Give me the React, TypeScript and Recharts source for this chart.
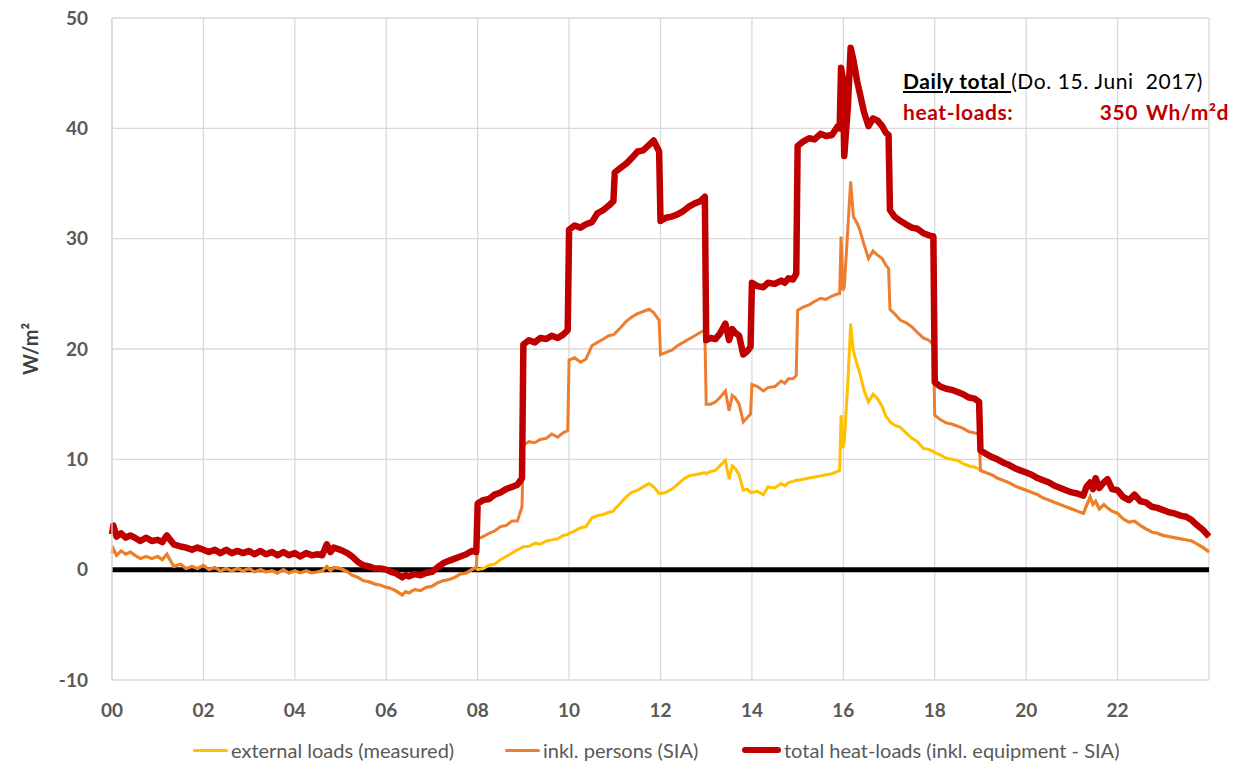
import React from 'react';
import {
  LineChart,
  Line,
  XAxis,
  YAxis,
  CartesianGrid,
  ReferenceLine,
} from 'recharts';

// time of day in hours (denser around the step changes)
const hours = [
  0, 0.03, 0.1, 0.2, 0.3, 0.4, 0.5, 0.62, 0.75, 0.87,
  1.0, 1.1, 1.2, 1.35, 1.5, 1.62, 1.75, 1.87, 2.0, 2.12,
  2.25, 2.37, 2.5, 2.62, 2.75, 2.87, 3.0, 3.12, 3.25, 3.37,
  3.5, 3.62, 3.75, 3.87, 4.0, 4.12, 4.25, 4.37, 4.5, 4.6,
  4.7, 4.78, 4.85, 5.0, 5.15, 5.25, 5.38, 5.5, 5.62, 5.75,
  5.87, 6.0, 6.1, 6.2, 6.35, 6.42, 6.5, 6.62, 6.75, 6.87,
  7.0, 7.12, 7.25, 7.37, 7.5, 7.62, 7.75, 7.87, 7.97, 8.0,
  8.12, 8.25, 8.37, 8.5, 8.62, 8.75, 8.87, 8.97, 9.0, 9.12,
  9.25, 9.37, 9.5, 9.62, 9.75, 9.87, 9.97, 10.0, 10.12, 10.25,
  10.37, 10.5, 10.62, 10.75, 10.87, 10.97, 11.0, 11.12, 11.25, 11.37,
  11.5, 11.62, 11.75, 11.85, 11.97, 12.0, 12.12, 12.25, 12.37, 12.5,
  12.62, 12.75, 12.87, 12.97, 13.0, 13.1, 13.2, 13.3, 13.42, 13.5,
  13.57, 13.63, 13.72, 13.81, 13.9, 13.97, 14.0, 14.12, 14.25, 14.35,
  14.5, 14.64, 14.72, 14.8, 14.9, 14.97, 15.0, 15.12, 15.25, 15.37,
  15.5, 15.62, 15.75, 15.88, 15.92, 15.95, 15.99, 16.02, 16.1, 16.16,
  16.22, 16.3, 16.36, 16.45, 16.55, 16.65, 16.75, 16.85, 16.93, 16.99,
  17.02, 17.12, 17.25, 17.37, 17.5, 17.62, 17.75, 17.87, 17.97, 18.0,
  18.12, 18.25, 18.37, 18.5, 18.62, 18.75, 18.87, 18.97, 19.0, 19.12,
  19.25, 19.37, 19.5, 19.62, 19.75, 19.87, 20.0, 20.12, 20.25, 20.37,
  20.5, 20.62, 20.75, 20.87, 21.0, 21.12, 21.25, 21.32, 21.4, 21.46,
  21.52, 21.6, 21.7, 21.78, 21.88, 22.0, 22.12, 22.25, 22.37, 22.5,
  22.62, 22.75, 22.87, 23.0, 23.12, 23.25, 23.37, 23.5, 23.62, 23.75,
  23.87, 24.0,
];

// W/m2
const externalLoads = [
  1.5, 1.9, 1.3, 1.7, 1.4, 1.6, 1.3, 1.0, 1.2, 1.0,
  1.2, 0.9, 1.4, 0.3, 0.5, 0.1, 0.3, 0.1, 0.4, 0.0,
  0.2, -0.1, 0.1, -0.1, 0.1, -0.1, 0.1, -0.2, 0.0, -0.2,
  -0.1, -0.3, 0.0, -0.3, -0.1, -0.3, -0.1, -0.3, -0.2, -0.1,
  0.3, -0.1, 0.2, 0.1, -0.2, -0.5, -0.7, -1.0, -1.1, -1.3,
  -1.4, -1.6, -1.7, -1.9, -2.3, -2.0, -2.1, -1.8, -1.9, -1.6,
  -1.5, -1.2, -1.0, -0.9, -0.7, -0.4, -0.3, 0.0, 0.2, 0.0,
  0.1, 0.4, 0.5, 0.9, 1.2, 1.5, 1.8, 2.0, 2.1, 2.1,
  2.4, 2.3, 2.6, 2.7, 2.8, 3.1, 3.2, 3.3, 3.5, 3.8,
  3.9, 4.7, 4.9, 5.0, 5.2, 5.3, 5.5, 6.0, 6.6, 7.0,
  7.2, 7.5, 7.8, 7.5, 6.9, 6.9, 7.0, 7.3, 7.7, 8.2,
  8.5, 8.6, 8.7, 8.8, 8.7, 8.9, 9.0, 9.4, 9.9, 8.2,
  9.4, 9.2, 8.6, 7.2, 7.3, 7.0, 7.0, 7.1, 6.8, 7.5,
  7.4, 7.8, 7.6, 7.9, 8.0, 8.1, 8.1, 8.2, 8.3, 8.4,
  8.5, 8.6, 8.7, 8.9, 9.0, 14.0, 11.0, 11.6, 17.0, 22.3,
  19.8, 18.6, 17.8, 16.3, 15.2, 15.9, 15.5, 14.8, 13.9, 13.6,
  13.4, 13.1, 12.9, 12.4, 11.9, 11.6, 11.0, 10.9, 10.7, 10.6,
  10.4, 10.1, 10.0, 9.9, 9.6, 9.4, 9.3, 9.1, 9.0, 8.8,
  8.6, 8.3, 8.1, 7.9, 7.6, 7.4, 7.2, 7.0, 6.8, 6.5,
  6.3, 6.1, 5.9, 5.7, 5.5, 5.3, 5.1, 5.8, 6.6, 5.9,
  6.2, 5.5, 5.9, 5.6, 5.3, 5.1, 4.6, 4.3, 4.4, 4.0,
  3.7, 3.4, 3.3, 3.1, 3.0, 2.9, 2.8, 2.7, 2.6, 2.3,
  2.0, 1.6,
];

const inklPersons = [
  1.5, 1.9, 1.3, 1.7, 1.4, 1.6, 1.3, 1.0, 1.2, 1.0,
  1.2, 0.9, 1.4, 0.3, 0.5, 0.1, 0.3, 0.1, 0.4, 0.0,
  0.2, -0.1, 0.1, -0.1, 0.1, -0.1, 0.1, -0.2, 0.0, -0.2,
  -0.1, -0.3, 0.0, -0.3, -0.1, -0.3, -0.1, -0.3, -0.2, -0.1,
  0.3, -0.1, 0.2, 0.1, -0.2, -0.5, -0.7, -1.0, -1.1, -1.3,
  -1.4, -1.6, -1.7, -1.9, -2.3, -2.0, -2.1, -1.8, -1.9, -1.6,
  -1.5, -1.2, -1.0, -0.9, -0.7, -0.4, -0.3, 0.0, 0.2, 2.8,
  3.0, 3.3, 3.5, 3.9, 4.0, 4.4, 4.4, 5.7, 11.3, 11.6,
  11.5, 11.8, 11.9, 12.3, 12.0, 12.4, 12.6, 19.0, 19.2, 18.8,
  19.1, 20.3, 20.6, 20.9, 21.2, 21.3, 21.4, 21.9, 22.5, 22.9,
  23.2, 23.4, 23.6, 23.3, 22.6, 19.5, 19.7, 19.9, 20.3, 20.6,
  20.9, 21.2, 21.5, 21.7, 15.0, 15.0, 15.2, 15.6, 16.2, 14.4,
  15.8, 15.6, 15.0, 13.4, 13.8, 14.1, 16.8, 16.6, 16.2, 16.5,
  16.6, 17.1, 16.9, 17.3, 17.3, 17.6, 23.5, 23.8, 24.0, 24.3,
  24.6, 24.5, 24.8, 25.0, 25.0, 30.2, 25.3, 25.6, 31.0, 35.2,
  32.0, 31.4, 30.8, 29.5, 28.2, 28.9, 28.5, 28.2, 27.6, 27.3,
  23.6, 23.2, 22.6, 22.4, 22.0, 21.5, 21.0, 20.8, 20.4, 14.0,
  13.6, 13.3, 13.2, 13.0, 12.8, 12.5, 12.4, 12.3, 9.0, 8.8,
  8.6, 8.3, 8.1, 7.9, 7.6, 7.4, 7.2, 7.0, 6.8, 6.5,
  6.3, 6.1, 5.9, 5.7, 5.5, 5.3, 5.1, 5.8, 6.6, 5.9,
  6.2, 5.5, 5.9, 5.6, 5.3, 5.1, 4.6, 4.3, 4.4, 4.0,
  3.7, 3.4, 3.3, 3.1, 3.0, 2.9, 2.8, 2.7, 2.6, 2.3,
  2.0, 1.6,
];

const totalHeatLoads = [
  3.2, 4.0, 3.0, 3.3, 2.9, 3.1, 2.9, 2.6, 2.9, 2.6,
  2.7, 2.5, 3.1, 2.3, 2.1, 2.0, 1.8, 2.0, 1.8, 1.6,
  1.8, 1.5, 1.8, 1.5, 1.7, 1.5, 1.7, 1.4, 1.7, 1.4,
  1.6, 1.3, 1.6, 1.3, 1.5, 1.2, 1.5, 1.3, 1.4, 1.3,
  2.3, 1.6, 2.0, 1.8, 1.5, 1.2, 0.7, 0.4, 0.3, 0.1,
  0.1, 0.0, -0.2, -0.3, -0.7, -0.5, -0.6, -0.4, -0.5, -0.3,
  -0.2, 0.2, 0.6, 0.8, 1.0, 1.2, 1.4, 1.7, 1.6, 6.0,
  6.3, 6.4, 6.8, 7.0, 7.3, 7.5, 7.7, 8.3, 20.4, 20.8,
  20.6, 21.0, 20.9, 21.2, 21.0, 21.3, 21.7, 30.8, 31.2, 31.0,
  31.3, 31.5, 32.3, 32.6, 33.0, 33.4, 36.0, 36.4, 36.8, 37.3,
  37.9, 38.0, 38.5, 38.9, 37.9, 31.6, 31.9, 32.0, 32.2, 32.5,
  32.9, 33.2, 33.4, 33.8, 20.8, 21.0, 20.9, 21.4, 22.3, 20.8,
  21.8, 21.5, 21.2, 19.5, 19.8, 20.2, 26.0, 25.7, 25.6, 26.0,
  25.9, 26.2, 26.0, 26.4, 26.3, 26.8, 38.4, 38.8, 39.1, 39.0,
  39.5, 39.3, 39.4, 40.2, 40.0, 45.5, 44.5, 37.5, 42.0, 47.3,
  46.2, 44.3, 43.2, 41.5, 40.2, 40.9, 40.7, 40.2, 39.6, 39.4,
  32.6, 32.0, 31.6, 31.3, 31.0, 30.9, 30.5, 30.3, 30.2, 17.0,
  16.6, 16.4, 16.3, 16.1, 15.9, 15.6, 15.5, 15.2, 10.8, 10.5,
  10.2, 10.0, 9.7, 9.5, 9.2, 9.0, 8.8, 8.6, 8.3, 8.1,
  7.9, 7.6, 7.4, 7.2, 7.0, 6.9, 6.7, 7.5, 7.9, 7.3,
  8.3, 7.4, 7.9, 8.2, 7.3, 7.2, 6.6, 6.3, 6.8, 6.2,
  6.1, 5.7, 5.6, 5.4, 5.2, 5.1, 4.9, 4.8, 4.5, 4.0,
  3.6, 3.0,
];

const xTicks = [0, 2, 4, 6, 8, 10, 12, 14, 16, 18, 20, 22];
const yTicks = [-10, 0, 10, 20, 30, 40, 50];

const seriesNames = [
  'external loads (measured)',
  'inkl. persons (SIA)',
  'total heat-loads (inkl. equipment - SIA)',
];

const COLORS = { ext: '#FFC000', pers: '#ED7D31', total: '#C00000' };
const FONT = "Lato, 'Open Sans', sans-serif";

const data = hours.map((h, i) => ({
  h,
  ext: externalLoads[i],
  pers: inklPersons[i],
  total: totalHeatLoads[i],
}));

const legendItems = [
  { name: seriesNames[0], color: COLORS.ext, width: 3, len: 35, left: 193 },
  { name: seriesNames[1], color: COLORS.pers, width: 3, len: 35, left: 505 },
  { name: seriesNames[2], color: COLORS.total, width: 6, len: 39, left: 742 },
];

export default function App() {
  return (
    // shifted up/left by the body margin so the chart starts at the window corner
    <div style={{ position: 'relative', top: -8, left: -8, width: 1241, height: 754, fontFamily: FONT }}>
      <LineChart
        width={1241}
        height={754}
        data={data}
        margin={{ top: 18, right: 32, left: 8, bottom: 34 }}
      >
        <CartesianGrid stroke="#D9D9D9" strokeWidth={1.3} />
        <XAxis
          dataKey="h"
          type="number"
          domain={[0, 24]}
          ticks={xTicks}
          interval={0}
          tickFormatter={(v: number) => String(v).padStart(2, '0')}
          axisLine={false}
          tickLine={false}
          tickSize={0}
          tickMargin={24}
          height={40}
          tick={{ fill: '#595959', fontSize: 19, fontWeight: 700, fontFamily: FONT }}
        />
        <YAxis
          domain={[-10, 50]}
          ticks={yTicks}
          interval={0}
          width={104}
          axisLine={{ stroke: '#D9D9D9', strokeWidth: 1.3 }}
          tickLine={false}
          tickSize={0}
          tickMargin={24}
          tick={{ fill: '#595959', fontSize: 19, fontWeight: 700, fontFamily: FONT }}
          label={({ viewBox }: any) => (
            <text
              x={viewBox.x + 22}
              y={viewBox.y + viewBox.height / 2}
              transform={`rotate(-90 ${viewBox.x + 22} ${viewBox.y + viewBox.height / 2})`}
              textAnchor="middle"
              dominantBaseline="central"
              fill="#404040"
              fontSize={20}
              fontWeight={700}
              fontFamily={FONT}
            >
              W/m²
            </text>
          )}
        />
        <ReferenceLine y={0} stroke="#000000" strokeWidth={5} />
        <Line
          dataKey="ext"
          name={seriesNames[0]}
          stroke={COLORS.ext}
          strokeWidth={3}
          dot={false}
          type="linear"
          isAnimationActive={false}
        />
        <Line
          dataKey="pers"
          name={seriesNames[1]}
          stroke={COLORS.pers}
          strokeWidth={3}
          dot={false}
          type="linear"
          isAnimationActive={false}
        />
        <Line
          dataKey="total"
          name={seriesNames[2]}
          stroke={COLORS.total}
          strokeWidth={6.5}
          strokeLinejoin="round"
          dot={false}
          type="linear"
          isAnimationActive={false}
        />
      </LineChart>

      {/* daily total note */}
      <div
        style={{
          position: 'absolute',
          left: 903,
          top: 65,
          fontSize: 21,
          letterSpacing: 0.6,
          whiteSpace: 'nowrap',
          lineHeight: '31px',
        }}
      >
        <div style={{ color: '#000' }}>
          <span style={{ fontWeight: 700, textDecoration: 'underline' }}>Daily total </span>
          (Do. 15. Juni&nbsp; 2017)
        </div>
        <div style={{ color: '#C00000', fontWeight: 700, position: 'relative', height: 31 }}>
          <span>heat-loads:</span>
          <span style={{ position: 'absolute', left: 175, width: 60, textAlign: 'right', top: 0 }}>350</span>
          <span style={{ position: 'absolute', left: 243, top: 0 }}>Wh/m²d</span>
        </div>
      </div>

      {/* legend */}
      {legendItems.map((it) => (
        <div
          key={it.name}
          style={{
            position: 'absolute',
            left: it.left,
            top: 738,
            height: 24,
            display: 'flex',
            alignItems: 'center',
            fontSize: 20,
            color: '#595959',
            whiteSpace: 'nowrap',
          }}
        >
          <div
            style={{
              width: it.len,
              height: it.width,
              background: it.color,
              borderRadius: it.width / 2,
              marginRight: 3,
            }}
          />
          <span>{it.name}</span>
        </div>
      ))}
    </div>
  );
}
